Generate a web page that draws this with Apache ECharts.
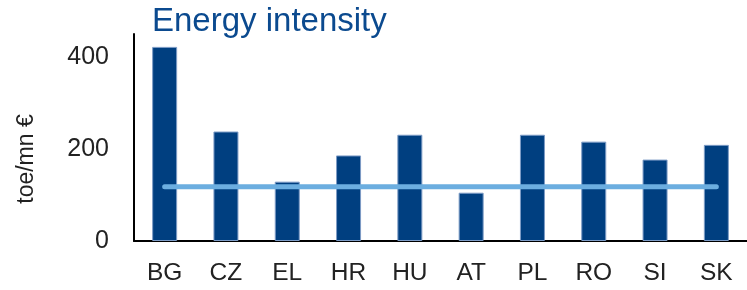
<!DOCTYPE html>
<html>
<head>
<meta charset="utf-8">
<script src="https://cdn.jsdelivr.net/npm/echarts@6/dist/echarts.min.js"></script>
<style>
  html, body { margin: 0; padding: 0; background: #fff; }
  #chart { width: 747px; height: 290px; }
</style>
</head>
<body>
<div id="chart"></div>
<script>
const countries = ["BG", "CZ", "EL", "HR", "HU", "AT", "PL", "RO", "SI", "SK"];
const intensity = [422, 238, 129, 186, 231, 105, 231, 216, 177, 209];
const euAverage = [118, 118, 118, 118, 118, 118, 118, 118, 118, 118];
const yTicks = [0, 200, 400];

const chart = echarts.init(document.getElementById("chart"));
const font = "Liberation Sans";

const option = {
  animation: false,
  title: {
    text: "Energy intensity",
    left: 147,
    top: 0,
    textStyle: {
      color: "#0b4a8f",
      fontFamily: font,
      fontWeight: "normal",
      fontSize: 33,
    },
  },
  graphic: [
    {
      type: "text",
      x: 27,
      y: 159,
      rotation: Math.PI / 2,
      style: {
        text: "toe/mn €",
        fill: "#222",
        font: "23px " + font,
        align: "center",
        verticalAlign: "middle",
      },
    },
  ],
  grid: {
    left: 134,
    right: 0,
    top: 34,
    bottom: 49,
  },
  xAxis: {
    type: "category",
    data: countries,
    axisLine: { lineStyle: { color: "#000", width: 2 } },
    axisTick: { show: false },
    axisLabel: {
      color: "#222",
      fontFamily: font,
      fontSize: 24.5,
      margin: 20,
    },
  },
  yAxis: {
    type: "value",
    min: yTicks[0],
    max: 450,
    interval: yTicks[1] - yTicks[0],
    splitLine: { show: false },
    axisLine: { show: true, lineStyle: { color: "#000", width: 2 } },
    axisTick: { show: false },
    axisLabel: {
      color: "#222",
      fontFamily: font,
      fontSize: 25,
      margin: 25,
      showMaxLabel: false,
      formatter: (v) => (yTicks.includes(v) ? String(v) : ""),
    },
  },
  series: [
    {
      name: "Energy intensity",
      type: "bar",
      data: intensity,
      barWidth: 25,
      itemStyle: {
        color: "#003f80",
        borderColor: "#7d9cc6",
        borderWidth: 1,
      },
    },
    {
      name: "EU",
      type: "line",
      data: euAverage,
      symbol: "none",
      lineStyle: { color: "#6caee0", width: 5, cap: "round" },
    },
  ],
};
chart.setOption(option);
</script>
</body>
</html>
